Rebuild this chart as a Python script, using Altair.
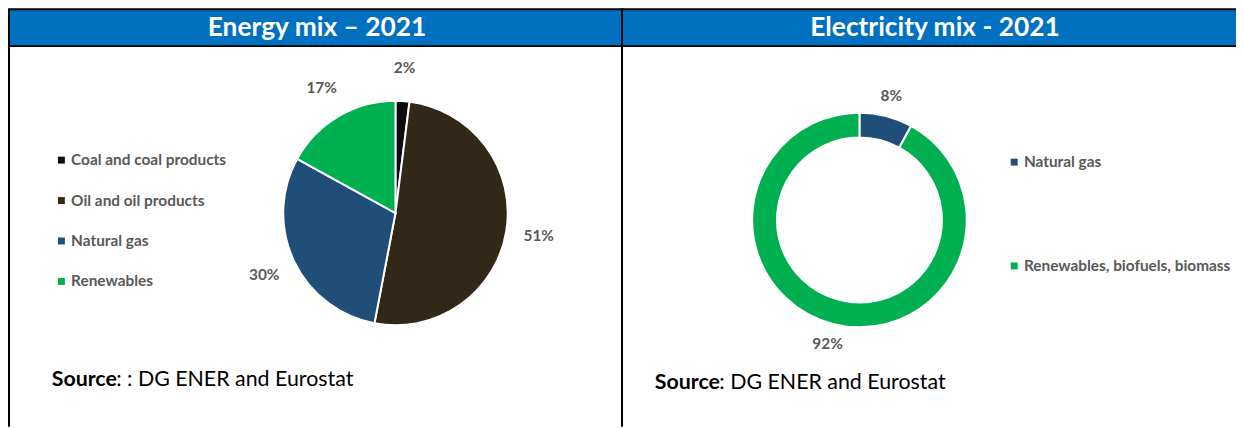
import altair as alt
import pandas as pd

# ---- data ----
energy_cats = ["Coal and coal products", "Oil and oil products", "Natural gas", "Renewables"]
energy_vals = [2, 51, 30, 17]
elec_cats = ["Natural gas", "Renewables, biofuels, biomass"]
elec_vals = [8, 92]
panel_titles = ["Energy mix – 2021", "Electricity mix - 2021"]
source_bold = "Source"
source_rest = [": : DG ENER and Eurostat", ": DG ENER and Eurostat"]

# ---- styles ----
energy_colors = ["#0d0d0d", "#322818", "#1f4e79", "#00b050"]
elec_colors = ["#1f4e79", "#00b050"]
HEADER = "#0070c0"
GREY = "#595959"
FONT = "Lato"
W, H = 1236, 420
DIV = 618
LBL = 15.5
SRC = 21.5
RS = 3  # right panel shift

energy_df = pd.DataFrame({"cat": energy_cats, "val": energy_vals,
                          "idx": list(range(len(energy_cats))),
                          "label": [f"{v}%" for v in energy_vals]})
elec_df = pd.DataFrame({"cat": elec_cats, "val": elec_vals,
                        "idx": list(range(len(elec_cats))),
                        "label": [f"{v}%" for v in elec_vals]})
one = pd.DataFrame({"a": [0]})

# header bars
hdr_left = alt.Chart(one).mark_rect(fill=HEADER, stroke="black", strokeWidth=2).encode(
    x=alt.value(1), x2=alt.value(DIV), y=alt.value(0), y2=alt.value(37))
hdr_right = alt.Chart(one).mark_rect(fill=HEADER, stroke="black", strokeWidth=2).encode(
    x=alt.value(DIV), x2=alt.value(W + 4), y=alt.value(0), y2=alt.value(37))
title_left = alt.Chart(one).mark_text(font=FONT, fontSize=26.5, fontWeight="bold", color="white",
                                       baseline="middle", align="center").encode(
    x=alt.value(311), y=alt.value(19), text=alt.value(panel_titles[0]))
title_right = alt.Chart(one).mark_text(font=FONT, fontSize=26.5, fontWeight="bold", color="white",
                                        baseline="middle", align="center").encode(
    x=alt.value(930 + RS), y=alt.value(19), text=alt.value(panel_titles[1]))

border_left = alt.Chart(one).mark_rule(color="black", strokeWidth=2).encode(
    x=alt.value(1), y=alt.value(37), y2=alt.value(H))
border_div = alt.Chart(one).mark_rule(color="black", strokeWidth=2).encode(
    x=alt.value(DIV), y=alt.value(37), y2=alt.value(H))

# pie
PCX, PCY = 390, 205
pie = alt.Chart(energy_df).mark_arc(outerRadius=113, stroke="white", strokeWidth=2).encode(
    theta=alt.Theta("val:Q", stack=True),
    order=alt.Order("idx:Q"),
    color=alt.Color("cat:N", sort=energy_cats,
                    scale=alt.Scale(domain=energy_cats, range=energy_colors),
                    legend=alt.Legend(title=None, orient="none", legendX=46, legendY=144,
                                      symbolType="square", symbolSize=49, symbolStrokeWidth=0,
                                      labelFont=FONT, labelFontSize=LBL, labelFontWeight="bold",
                                      labelColor=GREY, rowPadding=23.7, labelOffset=2,
                                      labelLimit=300)),
    x=alt.value(PCX), y=alt.value(PCY))
pie_text = alt.Chart(energy_df).mark_text(radius=146, font=FONT, fontSize=LBL, fontWeight="bold",
                                          color=GREY).encode(
    theta=alt.Theta("val:Q", stack=True),
    order=alt.Order("idx:Q"),
    detail="cat:N",
    text="label:N",
    x=alt.value(PCX), y=alt.value(PCY))

# donut
DCX, DCY = 854 + RS, 212
donut = alt.Chart(elec_df).mark_arc(outerRadius=108, innerRadius=83, stroke="white", strokeWidth=2).encode(
    theta=alt.Theta("val:Q", stack=True),
    order=alt.Order("idx:Q"),
    color=alt.Color("cat:N", sort=elec_cats,
                    scale=alt.Scale(domain=elec_cats, range=elec_colors),
                    legend=alt.Legend(title=None, orient="none", legendX=1002 + RS, legendY=146,
                                      symbolType="square", symbolSize=49, symbolStrokeWidth=0,
                                      labelFont=FONT, labelFontSize=LBL, labelFontWeight="bold",
                                      labelColor=GREY, rowPadding=87.5, labelOffset=2,
                                      labelLimit=300)),
    x=alt.value(DCX), y=alt.value(DCY))
donut_text = alt.Chart(elec_df).mark_text(radius=129, font=FONT, fontSize=LBL, fontWeight="bold",
                                          color=GREY).encode(
    theta=alt.Theta("val:Q", stack=True),
    order=alt.Order("idx:Q"),
    detail="cat:N",
    text="label:N",
    x=alt.value(DCX), y=alt.value(DCY))

# sources
def src(xb, xr, y, rest):
    b = alt.Chart(one).mark_text(font=FONT, fontSize=SRC, fontWeight="bold", color="black",
                                 align="left", baseline="middle").encode(
        x=alt.value(xb), y=alt.value(y), text=alt.value(source_bold))
    r = alt.Chart(one).mark_text(font=FONT, fontSize=SRC, color="black",
                                 align="left", baseline="middle").encode(
        x=alt.value(xr), y=alt.value(y), text=alt.value(rest))
    return b + r

src_left = src(44, 109, 373, source_rest[0])
src_right = src(648 + RS, 713 + RS, 376, source_rest[1])

chart = alt.layer(
    hdr_left, hdr_right, title_left, title_right, border_left, border_div,
    pie, pie_text, donut, donut_text, src_left, src_right
).resolve_scale(color="independent", theta="independent").properties(
    width=W, height=H, autosize=alt.AutoSizeParams(type="none"), padding=0, background="white"
).configure_view(stroke=None)

chart.save("out.html", embed_options={"renderer": "svg", "actions": False})
